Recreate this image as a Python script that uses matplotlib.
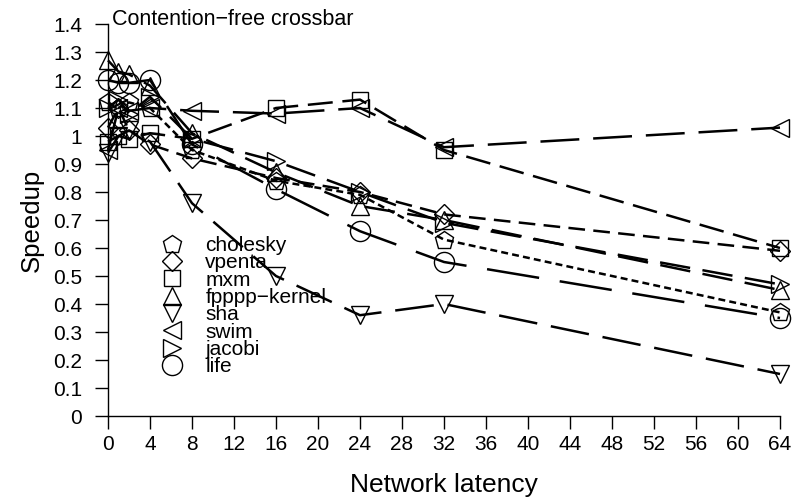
import matplotlib
matplotlib.use('Agg')
import matplotlib.pyplot as plt
from matplotlib.lines import Line2D

plt.rcParams['font.family'] = ['Liberation Sans', 'DejaVu Sans']
plt.rcParams['lines.scale_dashes'] = False

latency = [0, 1, 2, 4, 8, 16, 24, 32, 64]

cholesky = [1.12, 1.10, 1.12, 1.10, 0.95, 0.84, 0.79, 0.63, 0.37]
vpenta = [1.03, 1.10, 1.02, 0.97, 0.92, 0.85, 0.80, 0.72, 0.59]
mxm = [0.98, 1.00, 0.99, 1.01, 0.99, 1.10, 1.13, 0.95, 0.60]
fpppp = [1.27, 1.23, 1.22, 1.18, 1.01, 0.87, 0.75, 0.70, 0.45]
sha = [0.94, 1.00, 1.02, 0.98, 0.76, 0.50, 0.36, 0.40, 0.15]
swim = [0.95, 1.10, 1.09, 1.10, 1.09, 1.08, 1.10, 0.96, 1.03]
jacobi = [1.10, 1.13, 1.08, 1.14, 0.99, 0.91, 0.80, 0.69, 0.47]
life = [1.20, 1.19, 1.19, 1.20, 0.97, 0.81, 0.66, 0.55, 0.35]

names = ['cholesky', 'vpenta', 'mxm', 'fpppp\u2212kernel', 'sha', 'swim', 'jacobi', 'life']
series = [cholesky, vpenta, mxm, fpppp, sha, swim, jacobi, life]
markers = ['p', 'D', 's', '^', 'v', '<', '>', 'o']
msizes = [13.5, 10, 11, 13, 13, 13, 13, 14.5]
# dash patterns in points
dashes = [(5, 3), (12, 6), (18, 7), (22, 9), (28, 10), (28, 10), (22, 9), (38, 15)]

fig = plt.figure(figsize=(7.92, 4.99), dpi=100)
ax = fig.add_axes([108 / 792, 83 / 499, 672 / 792, 392 / 499])

handles = []
for name, vals, m, ms, d in zip(names, series, markers, msizes, dashes):
    ax.plot(latency, vals, color='black', lw=1.8, dashes=d, clip_on=False, zorder=2)
    ax.plot(latency, vals, linestyle='none', marker=m, markersize=ms,
            markerfacecolor='none', markeredgecolor='black', markeredgewidth=1.0,
            clip_on=False, zorder=3)
    handles.append(Line2D([], [], linestyle='none', marker=m, markersize=ms,
                          markerfacecolor='none', markeredgecolor='black',
                          markeredgewidth=1.0, label=name))

ax.set_xlim(0, 64)
ax.set_ylim(0, 1.4)
ax.set_xticks(range(0, 65, 4))
ax.set_yticks([i / 10 for i in range(15)])
ax.set_yticklabels(['0'] + ['%.1f' % (i / 10) for i in range(1, 10)] + ['1'] +
                   ['%.1f' % (i / 10) for i in range(11, 15)])
for s in ['top', 'right']:
    ax.spines[s].set_visible(False)
for s in ['left', 'bottom']:
    ax.spines[s].set_linewidth(1.0)
ax.tick_params(direction='out', length=9.5, width=1.0, labelsize=15)
ax.tick_params(axis='y', pad=9)
ax.tick_params(axis='x', pad=4)

ax.set_xlabel('Network latency', fontsize=19, labelpad=14)
ax.set_ylabel('Speedup', fontsize=18.5, labelpad=7)
ax.text(0.006, 1.012, 'Contention\u2212free crossbar', transform=ax.transAxes,
        fontsize=15.5, ha='left', va='center')

leg = ax.legend(handles=handles, loc='upper left', bbox_to_anchor=(0.0714, 0.459),
                frameon=False, fontsize=15, labelspacing=-0.08,
                handletextpad=0.87, borderaxespad=0, borderpad=0, handlelength=1.5)

fig.savefig('out.png', dpi=100)
